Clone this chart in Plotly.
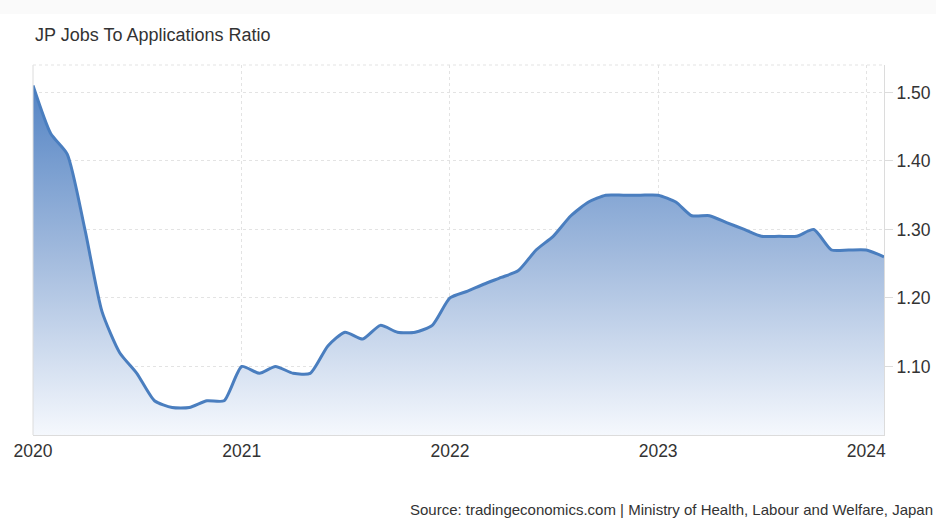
import plotly.graph_objects as go
import pandas as pd

# Monthly jobs-to-applicants ratio, Japan (Jan 2020 - Feb 2024)
months = pd.date_range("2020-01-01", "2024-02-01", freq="MS")
ratio_2020 = [1.51, 1.44, 1.41, 1.30, 1.18, 1.12, 1.09, 1.05, 1.04, 1.04, 1.05, 1.05]
ratio_2021 = [1.10, 1.09, 1.10, 1.09, 1.09, 1.13, 1.15, 1.14, 1.16, 1.15, 1.15, 1.16]
ratio_2022 = [1.20, 1.21, 1.22, 1.23, 1.24, 1.27, 1.29, 1.32, 1.34, 1.35, 1.35, 1.35]
ratio_2023 = [1.35, 1.34, 1.32, 1.32, 1.31, 1.30, 1.29, 1.29, 1.29, 1.30, 1.27, 1.27]
ratio_2024 = [1.27, 1.26]
ratio = ratio_2020 + ratio_2021 + ratio_2022 + ratio_2023 + ratio_2024

year_ticks = ["2020-01-01", "2021-01-01", "2022-01-01", "2023-01-01", "2024-01-01"]
year_labels = ["2020", "2021", "2022", "2023", "2024"]
y_ticks = [1.10, 1.20, 1.30, 1.40, 1.50]

FONT = "Liberation Sans, Arial, sans-serif"
GRID = "#e3e3e3"
AXIS = "#dcdcdc"
TEXT = "#333333"
LINE = "#4a7ebf"

fig = go.Figure()
fig.add_trace(go.Scatter(
    x=months,
    y=ratio,
    mode="lines",
    line=dict(color=LINE, width=3, shape="spline", smoothing=0.6),
    fill="tozeroy",
    fillgradient=dict(
        type="vertical",
        start=1.0,
        stop=1.51,
        colorscale=[[0.0, "rgba(245,248,253,1)"],
                    [0.5, "rgba(164,188,222,1)"],
                    [1.0, "rgba(84,132,196,1)"]],
    ),
    hoverinfo="x+y",
    showlegend=False,
))

fig.update_layout(
    width=936,
    height=518,
    margin=dict(l=33, r=52, t=65, b=83, autoexpand=False),
    paper_bgcolor="white",
    plot_bgcolor="white",
    font=dict(family=FONT, color=TEXT, size=17.5),
    xaxis=dict(
        range=["2020-01-01", "2024-02-01"],
        tickvals=year_ticks,
        ticktext=year_labels,
        showgrid=True,
        gridcolor=GRID,
        griddash="dot",
        gridwidth=1,
        showline=True,
        linecolor=AXIS,
        linewidth=1,
        ticks="",
        tickfont=dict(size=17.5, color=TEXT),
        zeroline=False,
        fixedrange=True,
        automargin=False,
    ),
    yaxis=dict(
        range=[1.0, 1.54],
        side="right",
        tickvals=y_ticks,
        tickformat=".2f",
        showgrid=True,
        gridcolor=GRID,
        griddash="dot",
        gridwidth=1,
        showline=True,
        linecolor=AXIS,
        linewidth=1,
        ticks="outside",
        ticklen=8,
        tickcolor=AXIS,
        tickfont=dict(size=17.5, color=TEXT),
        zeroline=False,
        fixedrange=True,
        automargin=False,
    ),
    shapes=[
        # left border of the plot area
        dict(type="line", xref="paper", yref="paper", x0=0, x1=0, y0=0, y1=1,
             line=dict(color=AXIS, width=1)),
        # dotted top border
        dict(type="line", xref="paper", yref="paper", x0=0, x1=1, y0=1, y1=1,
             line=dict(color=GRID, width=1, dash="dot")),
        # faint header strip
        dict(type="rect", xref="paper", yref="paper", x0=-0.04, x1=1.07,
             y0=1.0 + (65 - 14) / 370, y1=1.0 + 65 / 370,
             fillcolor="#fafafa", line=dict(width=0), layer="below"),
    ],
    annotations=[
        dict(text="JP Jobs To Applications Ratio", xref="paper", yref="paper",
             x=0, y=1.0 + (65 - 35) / 370, xanchor="left", yanchor="middle",
             showarrow=False, font=dict(size=18, color=TEXT, family=FONT)),
        dict(text="Source: tradingeconomics.com | Ministry of Health, Labour and Welfare, Japan",
             xref="paper", yref="paper",
             x=(935 - 33) / 851, y=(435 - 509) / 370, xanchor="right", yanchor="middle",
             showarrow=False, font=dict(size=15, color=TEXT, family=FONT)),
    ],
)

fig.write_html("out.html")
